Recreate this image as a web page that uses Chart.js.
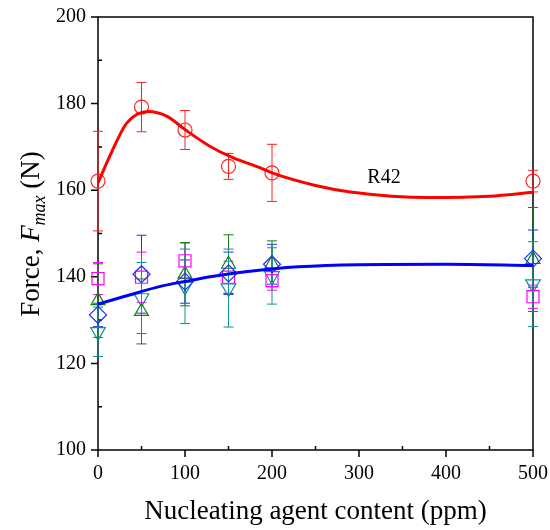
<!DOCTYPE html>
<html>
<head>
<meta charset="utf-8">
<script src="https://cdn.jsdelivr.net/npm/chart.js@4.4.0/dist/chart.umd.min.js"></script>
<style>
  html, body { margin: 0; padding: 0; background: #fff; }
</style>
</head>
<body>
<canvas id="chart" width="550" height="530"></canvas>
<script>
// nucleating agent content (ppm)
const content = [0, 50, 100, 150, 200, 500];

// measured force F_max (N) and error bar half-widths
const forceR42 = [162.1, 179.2, 173.9, 165.5, 164.0, 162.1];
const errR42 = [11.5, 5.7, 4.5, 3.0, 6.6, 2.5];
const forceSquare = [139.6, 139.9, 143.7, 139.9, 139.1, 135.4];
const errSquare = [3.7, 5.8, 4.1, 3.7, 2.2, 2.7];
const forceUp = [134.5, 132.0, 140.6, 142.9, 143.0, 144.0];
const errUp = [8.5, 7.5, 7.3, 6.8, 5.3, 12.0];
const forceDiamond = [131.2, 140.6, 138.9, 140.8, 142.9, 144.2];
const errDiamond = [2.7, 9.0, 5.0, 4.9, 4.6, 6.6];
const forceDown = [127.3, 135.1, 137.8, 137.4, 140.2, 138.3];
const errDown = [5.7, 8.2, 8.6, 9.0, 6.5, 9.8];

// fitted trend curves
const fitR42X = [0, 15, 33, 58, 79, 100, 129, 155, 186, 200, 250, 290, 381, 450, 500];
const fitR42Y = [161.7, 168.5, 175.5, 178.2, 177.1, 174.0, 170.1, 167.5, 165.2, 164.0, 161.1, 159.6, 158.3, 158.6, 159.5];
const fitBlueX = [0, 31, 74, 100, 129, 172, 230, 300, 400, 500];
const fitBlueY = [133.7, 135.5, 137.9, 138.9, 140.0, 141.2, 142.3, 142.8, 142.9, 142.6];

const xTicks = [0, 100, 200, 300, 400, 500];
const yTicks = [100, 120, 140, 160, 180, 200];

const serif = '"Liberation Serif", "Times New Roman", serif';

function pts(xs, ys) {
    return xs.map(function (x, i) { return {x: x, y: ys[i]}; });
}

function markerSet(ys, errs, color, style, radius, rotation) {
    return {
        type: 'scatter',
        data: pts(content, ys),
        errors: errs,
        borderColor: color,
        backgroundColor: 'rgba(0,0,0,0)',
        pointStyle: style,
        pointRadius: radius,
        pointRotation: rotation || 0,
        pointBorderWidth: 1.2,
        showLine: false,
        clip: false
    };
}

function fitSet(xs, ys, color) {
    return {
        type: 'line',
        data: pts(xs, ys),
        borderColor: color,
        borderWidth: 3,
        pointRadius: 0,
        cubicInterpolationMode: 'monotone',
        fill: false,
        clip: false
    };
}

// frame, tick marks and error bars (under the markers)
const framePlugin = {
    id: 'frame',
    beforeDatasetsDraw(chart) {
        const ctx = chart.ctx;
        const a = chart.chartArea;
        const xs = chart.scales.x;
        const ys = chart.scales.y;
        ctx.save();
        ctx.strokeStyle = '#000';
        ctx.lineWidth = 1.5;
        ctx.strokeRect(a.left, a.top, a.right - a.left, a.bottom - a.top);
        ctx.beginPath();
        for (let v = 0; v <= 500; v += 50) {
            const px = xs.getPixelForValue(v);
            if (v % 100 === 0) {
                ctx.moveTo(px, a.bottom); ctx.lineTo(px, a.bottom + 7);
            } else {
                ctx.moveTo(px, a.bottom); ctx.lineTo(px, a.bottom - 4);
            }
        }
        for (let v = 100; v <= 200; v += 10) {
            const py = ys.getPixelForValue(v);
            if (v % 20 === 0) {
                ctx.moveTo(a.left, py); ctx.lineTo(a.left - 7, py);
            } else {
                ctx.moveTo(a.left, py); ctx.lineTo(a.left + 4, py);
            }
        }
        ctx.stroke();

        // error bars
        chart.data.datasets.forEach(function (ds) {
            if (!ds.errors) return;
            ctx.strokeStyle = ds.borderColor;
            ctx.lineWidth = 1;
            ctx.beginPath();
            ds.data.forEach(function (p, i) {
                const px = xs.getPixelForValue(p.x);
                const hi = ys.getPixelForValue(p.y + ds.errors[i]);
                const lo = ys.getPixelForValue(p.y - ds.errors[i]);
                ctx.moveTo(px, hi); ctx.lineTo(px, lo);
                ctx.moveTo(px - 5, hi); ctx.lineTo(px + 5, hi);
                ctx.moveTo(px - 5, lo); ctx.lineTo(px + 5, lo);
            });
            ctx.stroke();
        });
        ctx.restore();
    },
    afterDraw(chart) {
        const ctx = chart.ctx;
        const a = chart.chartArea;
        ctx.save();
        ctx.fillStyle = '#000';
        ctx.textBaseline = 'alphabetic';

        // x title
        ctx.font = '27px ' + serif;
        ctx.textAlign = 'center';
        ctx.fillText('Nucleating agent content (ppm)', (a.left + a.right) / 2, 519);

        // series label
        ctx.font = '20px ' + serif;
        ctx.fillText('R42', 384, 183);

        // y title with italic F and subscript max
        const parts = [
            {t: 'Force, ', f: '27px ' + serif, dy: 0},
            {t: 'F', f: 'italic 27px ' + serif, dy: 0},
            {t: 'max', f: 'italic 18px ' + serif, dy: 6},
            {t: ' (N)', f: '27px ' + serif, dy: 0}
        ];
        let total = 0;
        parts.forEach(function (p) { ctx.font = p.f; p.w = ctx.measureText(p.t).width; total += p.w; });
        ctx.translate(39, 234);
        ctx.rotate(-Math.PI / 2);
        ctx.textAlign = 'left';
        let x = -total / 2;
        parts.forEach(function (p) {
            ctx.font = p.f;
            ctx.fillText(p.t, x, p.dy);
            x += p.w;
        });
        ctx.restore();
    }
};

new Chart(document.getElementById('chart'), {
    type: 'scatter',
    data: {
        datasets: [
            fitSet(fitR42X, fitR42Y, '#ff0000'),
            fitSet(fitBlueX, fitBlueY, '#0000ff'),
            markerSet(forceR42, errR42, '#ff2020', 'circle', 7),
            markerSet(forceDiamond, errDiamond, '#1a30ff', 'rectRot', 8.5),
            markerSet(forceSquare, errSquare, '#ff00ff', 'rect', 8.5),
            markerSet(forceUp, errUp, '#108010', 'triangle', 8),
            markerSet(forceDown, errDown, '#109090', 'triangle', 8.5, 180)
        ]
    },
    options: {
        responsive: false,
        animation: false,
        devicePixelRatio: 1,
        layout: {padding: {top: 17, right: 17, left: 0, bottom: 0}},
        plugins: {legend: {display: false}, tooltip: {enabled: false}},
        scales: {
            x: {
                type: 'linear', min: 0, max: 500,
                grid: {display: false, drawTicks: false},
                border: {display: false},
                afterBuildTicks: function (s) { s.ticks = xTicks.map(function (v) { return {value: v}; }); },
                afterFit: function (s) { s.height = 80; s.paddingLeft = 0; s.paddingRight = 0; },
                ticks: {color: '#000', padding: 12, font: {family: serif, size: 20}}
            },
            y: {
                type: 'linear', min: 100, max: 200,
                grid: {display: false, drawTicks: false},
                border: {display: false},
                afterBuildTicks: function (s) { s.ticks = yTicks.map(function (v) { return {value: v}; }); },
                afterFit: function (s) { s.width = 98; s.paddingTop = 0; s.paddingBottom = 0; },
                ticks: {color: '#000', padding: 12, font: {family: serif, size: 20}}
            }
        }
    },
    plugins: [framePlugin]
});
</script>
</body>
</html>
